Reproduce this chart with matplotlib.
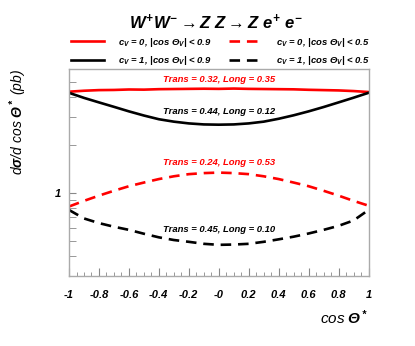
import numpy as np
import matplotlib
matplotlib.use("Agg")
import matplotlib.pyplot as plt
from matplotlib.ticker import FixedLocator, FixedFormatter, MultipleLocator, NullFormatter, LogLocator

plt.rcParams['font.family'] = ['Liberation Sans', 'DejaVu Sans']
plt.rcParams['font.weight'] = 'bold'
plt.rcParams['font.style'] = 'italic'
plt.rcParams['mathtext.fontset'] = 'custom'
plt.rcParams['mathtext.rm'] = 'Liberation Sans:bold:italic'
plt.rcParams['mathtext.it'] = 'Liberation Sans:bold:italic'
plt.rcParams['mathtext.bf'] = 'Liberation Sans:bold:italic'

# cos(theta*) sampling points
cos_theta = [-1.0, -0.9, -0.8, -0.7, -0.6, -0.5, -0.4, -0.3, -0.2, -0.1, 0.0,
             0.1, 0.2, 0.3, 0.4, 0.5, 0.6, 0.7, 0.8, 0.9, 1.0]

# cV = 0, |cos theta_V| < 0.9  (red solid)
red_solid = [4.32, 4.38, 4.42, 4.43, 4.46, 4.45, 4.48, 4.49, 4.50, 4.51, 4.50,
             4.52, 4.50, 4.49, 4.48, 4.47, 4.44, 4.42, 4.40, 4.36, 4.30]
# cV = 1, |cos theta_V| < 0.9  (black solid)
black_solid = [4.25, 3.95, 3.70, 3.47, 3.25, 3.06, 2.90, 2.80, 2.73, 2.69, 2.68,
               2.69, 2.73, 2.80, 2.92, 3.07, 3.25, 3.46, 3.70, 3.96, 4.25]
# cV = 0, |cos theta_V| < 0.5  (red dashed)
red_dashed = [0.82, 0.89, 0.96, 1.03, 1.10, 1.16, 1.22, 1.27, 1.31, 1.33, 1.34,
              1.33, 1.31, 1.27, 1.22, 1.16, 1.10, 1.03, 0.96, 0.89, 0.83]
# cV = 1, |cos theta_V| < 0.5  (black dashed)
black_dashed = [0.78, 0.69, 0.645, 0.612, 0.585, 0.553, 0.525, 0.505, 0.492, 0.478, 0.471,
                0.473, 0.478, 0.492, 0.51, 0.53, 0.555, 0.585, 0.62, 0.67, 0.78]

labels = [r"$c_V$ = 0, |cos $\Theta_V$| < 0.9", r"$c_V$ = 1, |cos $\Theta_V$| < 0.9",
          r"$c_V$ = 0, |cos $\Theta_V$| < 0.5", r"$c_V$ = 1, |cos $\Theta_V$| < 0.5"]
notes = ["Trans = 0.32, Long = 0.35", "Trans = 0.44, Long = 0.12",
         "Trans = 0.24, Long = 0.53", "Trans = 0.45, Long = 0.10"]
note_y = [5.17, 3.26, 1.56, 0.586]
note_col = ['#ff0000', 'black', '#ff0000', 'black']

xticks = [-1, -0.8, -0.6, -0.4, -0.2, 0, 0.2, 0.4, 0.6, 0.8, 1]
xticklabels = ["-1", "-0.8", "-0.6", "-0.4", "-0.2", "-0", "0.2", "0.4", "0.6", "0.8", "1"]

fig = plt.figure(figsize=(4.15, 3.46), dpi=100)
ax = fig.add_axes([0.1663, 0.2023, 0.7217, 0.5983])

dash = (0, (4.0, 2.6))
l1, = ax.plot(cos_theta, red_solid, color='#ff0000', lw=1.9)
l2, = ax.plot(cos_theta, black_solid, color='black', lw=1.9)
l3, = ax.plot(cos_theta, red_dashed, color='#ff0000', lw=1.9, linestyle=dash)
l4, = ax.plot(cos_theta, black_dashed, color='black', lw=1.9, linestyle=dash)

for t, y, c in zip(notes, note_y, note_col):
    ax.text(0.0, y, t, color=c, fontsize=6.8, ha='center', va='center')

ax.set_yscale('log')
ax.set_xlim(-1, 1)
ax.set_ylim(0.3, 6.0)

ax.xaxis.set_major_locator(FixedLocator(xticks))
ax.xaxis.set_major_formatter(FixedFormatter(xticklabels))
ax.xaxis.set_minor_locator(MultipleLocator(0.05))
ax.yaxis.set_major_locator(FixedLocator([1]))
ax.yaxis.set_major_formatter(FixedFormatter(["1"]))
ax.yaxis.set_minor_locator(LogLocator(base=10, subs=np.arange(2, 10)))
ax.yaxis.set_minor_formatter(NullFormatter())

ax.tick_params(which='both', direction='in', color='#888888', labelsize=8)
ax.tick_params(axis='x', which='major', length=6, pad=10)
ax.tick_params(axis='x', which='minor', length=3)
ax.tick_params(axis='y', which='both', length=5, pad=6)
for s in ax.spines.values():
    s.set_color('#aaaaaa')
    s.set_linewidth(1.0)

ax.set_xlabel(r"cos $\Theta^*$", fontsize=11, loc='right', labelpad=6)
ax.set_ylabel(r"d$\sigma$/d cos $\Theta^*$ (pb)", fontsize=10)
ax.yaxis.set_label_coords(-0.135, 0.745)

fig.text(0.52, 0.936, r"$W^{+}W^{-}\rightarrow Z\ Z\rightarrow Z\ e^{+}\ e^{-}$",
         fontsize=12, ha='center', va='center')

ax.legend([l1, l2, l3, l4], labels, ncol=2, frameon=False, fontsize=6.8,
          loc='lower left', bbox_to_anchor=(-0.005, 0.99),
          handlelength=3.5, handletextpad=1.4, columnspacing=1.9, labelspacing=0.6,
          borderaxespad=0.0)

fig.savefig('out.png', dpi=100)
